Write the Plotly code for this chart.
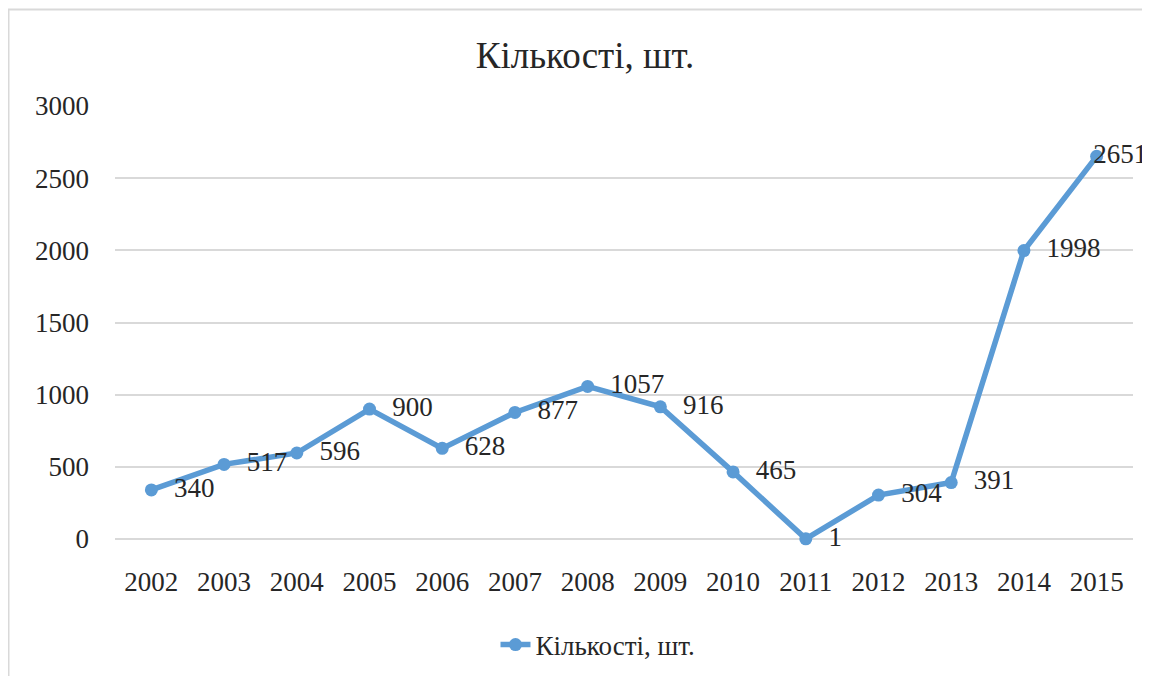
import plotly.graph_objects as go

years = ["2002", "2003", "2004", "2005", "2006", "2007", "2008", "2009",
         "2010", "2011", "2012", "2013", "2014", "2015"]
counts = [340, 517, 596, 900, 628, 877, 1057, 916, 465, 1, 304, 391, 1998, 2651]
series_name = "Кількості, шт."
title_text = "Кількості, шт."
y_ticks = [0, 500, 1000, 1500, 2000, 2500, 3000]

NB = "\u00a0"
labels = [NB * 2 + str(v) for v in counts[:-1]] + [NB * 7 + str(counts[-1])]
positions = ["middle right"] * (len(counts) - 1) + ["middle center"]

# the page body adds an 8px offset; work in screen pixels and convert
OFF = 8
W, H = 1150, 676
ml, mt = 115 - OFF, 106 - OFF
pw, ph = 1018, 433
mr = W - ml - pw
mb = H - mt - ph

def px_x(p):
    return (p - OFF - ml) / pw

def px_y(p):
    return (mt + ph - (p - OFF)) / ph

font_family = "Liberation Serif, Times New Roman, serif"
blue = "#5B9BD5"
grid = "#D9D9D9"
txt = "#262626"

fig = go.Figure()
fig.add_trace(go.Scatter(
    x=years, y=counts, name=series_name,
    mode="lines+markers+text",
    line=dict(color=blue, width=5.5),
    marker=dict(color=blue, size=13),
    text=labels, textposition=positions,
    textfont=dict(family=font_family, size=27, color=txt),
    cliponaxis=False,
))

fig.update_layout(
    width=W, height=H,
    margin=dict(l=ml, r=mr, t=mt, b=mb),
    paper_bgcolor="white", plot_bgcolor="white",
    font=dict(family=font_family, size=27, color=txt),
    title=dict(text=title_text, x=px_x(585), xref="paper", xanchor="center",
               y=1 - (55 - OFF) / H, yref="container", yanchor="middle",
               font=dict(size=37, family=font_family, color=txt)),
    showlegend=True,
    legend=dict(orientation="h", x=px_x(598), xanchor="center",
                y=px_y(645), yanchor="middle",
                font=dict(size=27, family=font_family, color=txt)),
    xaxis=dict(type="category", range=[-0.5, len(years) - 0.5],
               showgrid=False, showline=False, zeroline=False,
               ticks="", tickfont=dict(size=27), ticklabelstandoff=24),
    yaxis=dict(range=[0, 3000], tickvals=y_ticks, showgrid=True, gridcolor=grid,
               gridwidth=1.5, zeroline=True, zerolinecolor=grid, zerolinewidth=1.5,
               showline=False, ticks="", tickfont=dict(size=27), ticklabelstandoff=25),
    shapes=[
        dict(type="line", xref="paper", yref="paper",
             x0=px_x(8), x1=px_x(1170), y0=px_y(9.5), y1=px_y(9.5),
             line=dict(color=grid, width=2)),
        dict(type="line", xref="paper", yref="paper",
             x0=px_x(8.5), x1=px_x(8.5), y0=px_y(9.5), y1=px_y(690),
             line=dict(color=grid, width=2)),
    ],
)

fig.write_html("out.html")
